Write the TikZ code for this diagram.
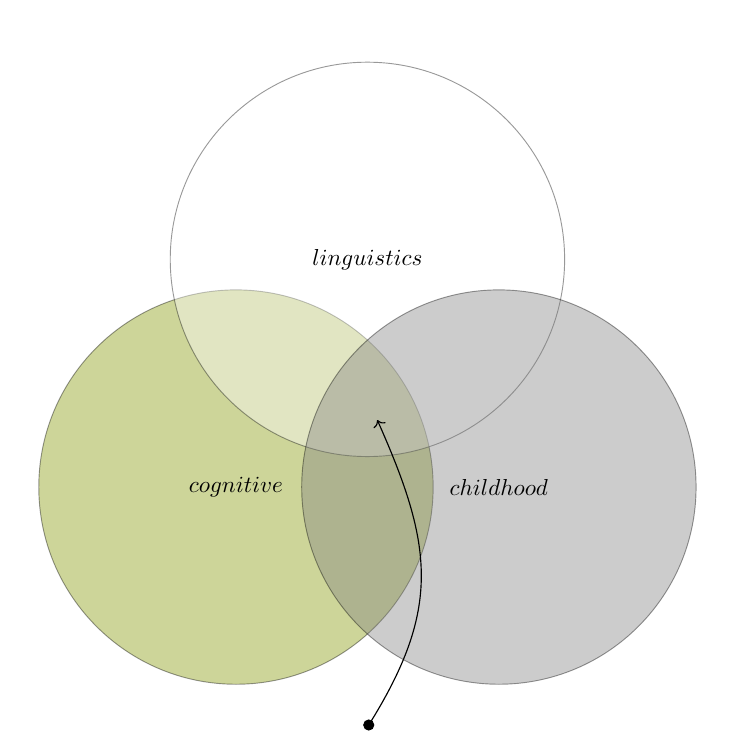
\documentclass[tikz,border=0pt]{standalone}
\usepackage{amsmath}
\usepackage{tikz}
\usetikzlibrary{positioning}
\usetikzlibrary{arrows.meta}
\definecolor{cogcol}{RGB}{130,150,0}

\begin{document}
\begin{tikzpicture}
    \useasboundingbox (-3.59,-3.81) rectangle (7.79,7.41);

    % the three sets
    \draw [fill=cogcol, opacity=0.4] (0,0) circle [radius=3];
    \draw [fill=white, opacity=0.4] (2,3.464) circle [radius=3];
    \draw [fill=gray, opacity=0.4] (4,0) circle [radius=3];

    % the labels for each set
    \node (cog) at (0,0) {$cognitive$};
    \node (child) at (4,0) {$childhood$};
    \node (ling) at (2,3.464) {$linguistics$};

    % the pointer into the middle
    \coordinate (dot) at (2.02,-3.62);
    \coordinate (mid) at (2.15,1.02);
    \filldraw (dot) circle (2.2pt);
    \draw [->, line width=0.5pt] (dot) to[out=58, in=-66, looseness=1.15] (mid);

\end{tikzpicture}
\end{document}
